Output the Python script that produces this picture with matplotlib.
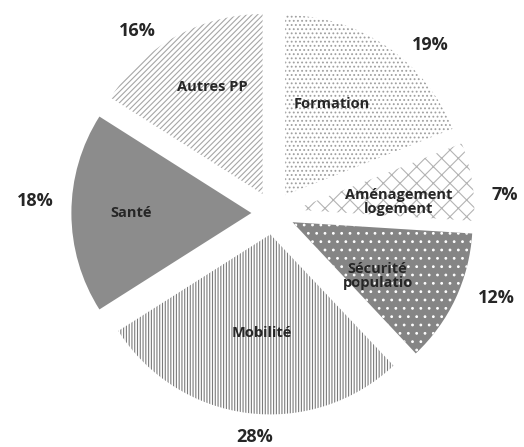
import numpy as np
import matplotlib
matplotlib.use("Agg")
import matplotlib.pyplot as plt

plt.rcParams['font.family'] = ['Open Sans', 'DejaVu Sans']
plt.rcParams['hatch.linewidth'] = 0.8

categories = ["Formation", "Aménagement\nlogement", "Sécurité\npopulatio",
              "Mobilité", "Santé", "Autres PP"]
shares = [19, 7, 12, 28, 18, 16]

faces = ["white", "white", "#858585", "white", "#8c8c8c", "white"]
hatch_colors = ["#a0a0a0", "#b3b3b3", "white", "#7a7a7a", "#8c8c8c", "#a6a6a6"]
hatches = ["....", "xx", "..", "||||||", "", "//////"]

# where the percentage labels sit (radius, angle shift from the wedge middle)
pct_radius = [1.28, 1.29, 1.33, 1.25, 1.32, 1.26]
pct_shift = [-9, -4.6, 4.4, 2.6, -3, 8]
name_shift = [6, -4, -6, 2, 0, -3]
name_radius = [0.69, 0.70, 0.68, 0.67, 0.79, 0.78]

fig = plt.figure(figsize=(5.24, 4.47), dpi=100)
ax = fig.add_axes([0, 0, 1, 1])

wedges, texts = ax.pie(
    shares, startangle=90, counterclock=False,
    explode=[0.12] * len(shares), radius=1.0,
    wedgeprops=dict(linewidth=0))

for w, fc, hc, h in zip(wedges, faces, hatch_colors, hatches):
    w.set_facecolor(fc)
    w.set_edgecolor(hc)
    w.set_hatch(h)

for w, name, v, pr, ps, nr, ns in zip(wedges, categories, shares, pct_radius,
                                      pct_shift, name_radius, name_shift):
    mid = np.deg2rad((w.theta1 + w.theta2) / 2)
    a = mid + np.deg2rad(ns)
    ax.text(nr * np.cos(a), nr * np.sin(a), name, ha='center', va='center',
            fontsize=10.5, fontweight='bold', color='#262626', linespacing=1.0)
    a = mid + np.deg2rad(ps)
    ax.text(pr * np.cos(a), pr * np.sin(a), "%d%%" % v, ha='center', va='center',
            fontsize=13, fontweight='bold', color='#262626')

ax.set_aspect('auto')
ax.set_xlim(-273 / 180, (524 - 273) / 180)
ax.set_ylim(-(447 - 213) / 180, 213 / 180)
ax.axis('off')

fig.savefig("out.png", dpi=100, facecolor='white')
